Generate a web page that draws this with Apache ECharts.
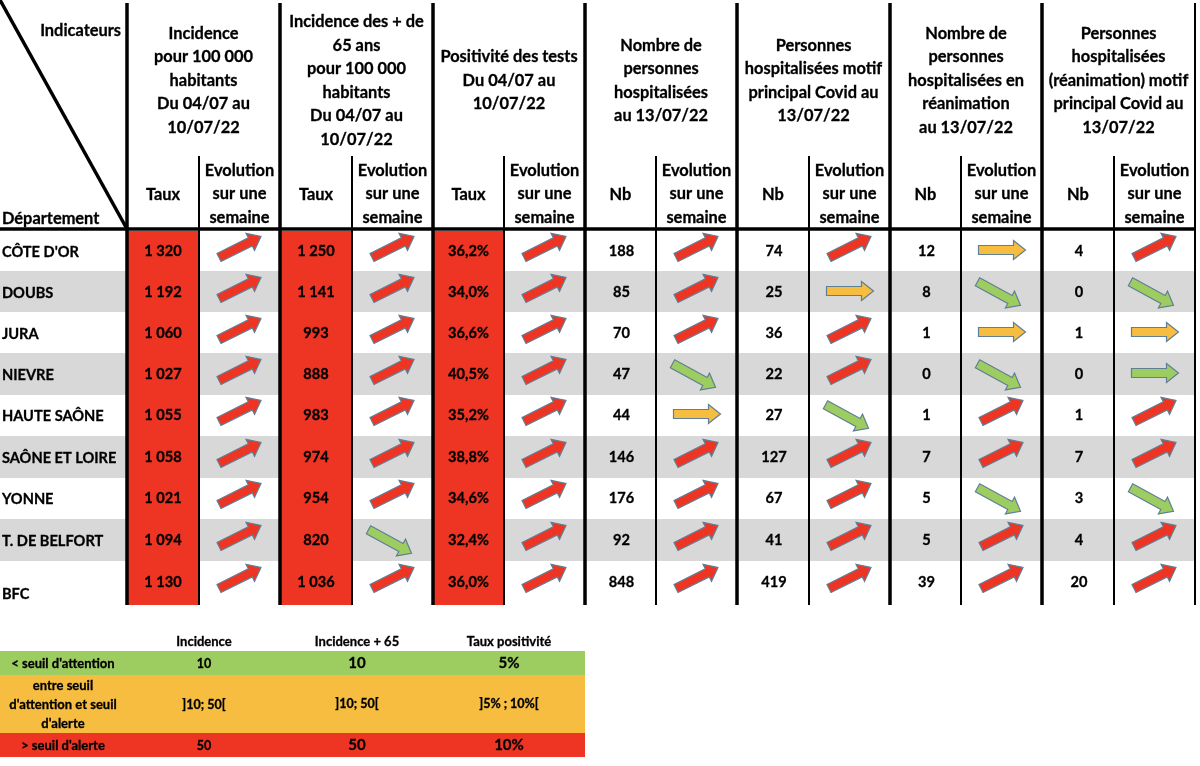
<!DOCTYPE html>
<html>
<head>
<meta charset="utf-8">
<style>
html, body { margin: 0; padding: 0; background: #fff; }
#main { width: 1200px; height: 766px; }
</style>
<script src="https://cdn.jsdelivr.net/npm/echarts@6/dist/echarts.min.js"></script>
</head>
<body>
<div id="main"></div>
<script>
var departments = ["CÔTE D'OR", 'DOUBS', 'JURA', 'NIEVRE', 'HAUTE SAÔNE', 'SAÔNE ET LOIRE', 'YONNE', 'T. DE BELFORT', 'BFC'];

var indicatorTitles = [
	'Incidence\npour 100 000\nhabitants\nDu 04/07 au\n10/07/22',
	'Incidence des + de\n65 ans\npour 100 000\nhabitants\nDu 04/07 au\n10/07/22',
	'Positivité des tests\nDu 04/07 au\n10/07/22',
	'Nombre de\npersonnes\nhospitalisées\nau 13/07/22',
	'Personnes\nhospitalisées motif\nprincipal Covid au\n13/07/22',
	'Nombre de\npersonnes\nhospitalisées en\nréanimation\nau 13/07/22',
	'Personnes\nhospitalisées\n(réanimation) motif\nprincipal Covid au\n13/07/22'
];
var subTitles = ['Taux', 'Taux', 'Taux', 'Nb', 'Nb', 'Nb', 'Nb'];

var incidence = [1320, 1192, 1060, 1027, 1055, 1058, 1021, 1094, 1130];
var incidence65 = [1250, 1141, 993, 888, 983, 974, 954, 820, 1036];
var positivite = [36.2, 34.0, 36.6, 40.5, 35.2, 38.8, 34.6, 32.4, 36.0];
var hospitalises = [188, 85, 70, 47, 44, 146, 176, 92, 848];
var hospMotif = [74, 25, 36, 22, 27, 127, 67, 41, 419];
var reanimation = [12, 8, 1, 0, 1, 7, 5, 5, 39];
var reaMotif = [4, 0, 1, 0, 1, 7, 3, 4, 20];

// u = hausse, o = stable orange, g = stable vert, d = baisse
var evoIncidence = ['u', 'u', 'u', 'u', 'u', 'u', 'u', 'u', 'u'];
var evoIncidence65 = ['u', 'u', 'u', 'u', 'u', 'u', 'u', 'd', 'u'];
var evoPositivite = ['u', 'u', 'u', 'u', 'u', 'u', 'u', 'u', 'u'];
var evoHospitalises = ['u', 'u', 'u', 'd', 'o', 'u', 'u', 'u', 'u'];
var evoHospMotif = ['u', 'o', 'u', 'u', 'd', 'u', 'u', 'u', 'u'];
var evoReanimation = ['o', 'd', 'o', 'd', 'u', 'u', 'd', 'u', 'u'];
var evoReaMotif = ['u', 'd', 'o', 'g', 'u', 'u', 'd', 'u', 'u'];

var legendHeaders = ['Incidence', 'Incidence + 65', 'Taux positivité'];
var legendLabels = ["< seuil d'attention", "entre seuil\nd'attention et seuil\nd'alerte", "> seuil d'alerte"];
var legendIncidence = ['10', ']10; 50[', '50'];
var legendIncidence65 = ['10', ']10; 50[', '50'];
var legendPositivite = ['5%', ']5% ; 10%[', '10%'];

// mise en page (coordonnees de l'axe)
var columnEdges = [127, 280, 433, 585, 737, 890, 1042, 1195];
var subEdges = [199, 352, 504, 656, 809, 961, 1114];
var rowEdges = [231, 271, 312, 353, 395, 436, 478, 519, 561, 605];
var rowCenters = [251, 292, 333, 374, 415, 457, 498, 540, 582];
var legendEdges = [651, 675, 733, 757];
var legendX = [63, 204, 357, 509];

var RED = '#ee3524', ORANGE = '#f6bd40', GREEN = '#9dcd60', GREY = '#d8d8d8';
var FONT = 'Lato, "Open Sans", sans-serif';

var tauxValues = [incidence, incidence65, positivite, hospitalises, hospMotif, reanimation, reaMotif];
var evoValues = [evoIncidence, evoIncidence65, evoPositivite, evoHospitalises, evoHospMotif, evoReanimation, evoReaMotif];

function fmtNumber(v) {
	return String(v).replace(/\B(?=(\d{3})+$)/g, ' ');
}
function fmtPercent(v) {
	return v.toFixed(1).replace('.', ',') + '%';
}

// rectangles
var rects = [];
for (var r = 0; r < 9; r++) {
	if (r % 2 == 1) rects.push([0, rowEdges[r], 1195, rowEdges[r + 1], GREY]);
}
for (var c = 0; c < 3; c++) {
	rects.push([columnEdges[c], rowEdges[0], subEdges[c], rowEdges[9], RED]);
}
rects.push([0, legendEdges[0], 585, legendEdges[1], GREEN]);
rects.push([0, legendEdges[1], 585, legendEdges[2], ORANGE]);
rects.push([0, legendEdges[2], 585, legendEdges[3], RED]);

// traits
var rules = [];
rules.push([0, 229, 1195, 229, 3.5]);
rules.push([0, 0, 127, 229, 3.5]);
columnEdges.forEach(function(x, i) {
	rules.push([x, 3, x, 605, i == 7 ? 2 : 3.5]);
});
subEdges.forEach(function(x) {
	rules.push([x, 156, x, 605, 2]);
});

// fleches
var arrows = [];
evoValues.forEach(function(list, c) {
	var cx = (subEdges[c] + columnEdges[c + 1]) / 2;
	list.forEach(function(code, r) {
		arrows.push([cx, rowCenters[r], code]);
	});
});

// textes
var texts = [];
function addText(str, x, y, size, align) {
	texts.push({ str: str, x: x, y: y, size: size, align: align || 'center' });
}
addText('Indicateurs', 121, 30.5, 16.4, 'right');
addText('Département', 2, 218.5, 16.4, 'left');
departments.forEach(function(name, r) {
	addText(name, 2, (r == 8 ? 593 : rowCenters[r]) + 1, 14.6, 'left');
});
indicatorTitles.forEach(function(title, c) {
	var left = (columnEdges[c] + subEdges[c]) / 2;
	var right = (subEdges[c] + columnEdges[c + 1]) / 2;
	addText(title, (columnEdges[c] + columnEdges[c + 1]) / 2, 80.5, 16.4);
	addText(subTitles[c], left, 194.5, 16.4);
	addText('Evolution\nsur une\nsemaine', right, 194, 16.4);
	tauxValues[c].forEach(function(v, r) {
		addText(c == 2 ? fmtPercent(v) : fmtNumber(v), left + (c > 2 ? 1 : 0), rowCenters[r] + 0.5, 14.6);
	});
});
legendHeaders.forEach(function(h, i) {
	addText(h, legendX[i + 1], 642, 13);
});
legendLabels.forEach(function(l, i) {
	var mid = (legendEdges[i] + legendEdges[i + 1]) / 2;
	addText(l, legendX[0], mid + 1, 13);
	addText(legendIncidence[i], legendX[1], mid + 1, 12.5);
	addText(legendIncidence65[i], legendX[2], mid, i == 1 ? 12.5 : 15);
	addText(legendPositivite[i], legendX[3], mid, i == 1 ? 12.5 : 15);
});

function arrowPoints(api, cx, cy, angle, len) {
	var s = 4.5, h = 9.5, head = 12;
	var local = [
		[-len / 2, -s], [len / 2 - head, -s], [len / 2 - head, -h], [len / 2, 0],
		[len / 2 - head, h], [len / 2 - head, s], [-len / 2, s]
	];
	var cos = Math.cos(angle), sin = Math.sin(angle);
	return local.map(function(p) {
		return api.coord([cx + p[0] * cos - p[1] * sin, cy + p[0] * sin + p[1] * cos]);
	});
}

function indexData(list) {
	return list.map(function(d, i) { return [i, i]; });
}

function customSeries(list, z, render) {
	return {
		type: 'custom',
		coordinateSystem: 'cartesian2d',
		clip: false,
		silent: true,
		z: z,
		data: indexData(list),
		encode: { x: 0, y: 1 },
		renderItem: function(params, api) {
			return render(list[params.dataIndex], api);
		}
	};
}

var myChart = echarts.init(document.getElementById('main'), null, { renderer: 'canvas' });

var option = {
	animation: false,
	backgroundColor: '#fff',
	grid: { left: 0, right: 0, top: 0, bottom: 0 },
	xAxis: { type: 'value', min: 0, max: 1200, show: false },
	yAxis: { type: 'value', min: 0, max: 766, inverse: true, show: false },
	series: [
		customSeries(rects, 1, function(d, api) {
			var a = api.coord([d[0], d[1]]), b = api.coord([d[2], d[3]]);
			return {
				type: 'rect',
				shape: { x: a[0], y: a[1], width: b[0] - a[0], height: b[1] - a[1] },
				style: { fill: d[4] }
			};
		}),
		customSeries(rules, 2, function(d, api) {
			var a = api.coord([d[0], d[1]]), b = api.coord([d[2], d[3]]);
			return {
				type: 'line',
				shape: { x1: a[0], y1: a[1], x2: b[0], y2: b[1] },
				style: { stroke: '#000', lineWidth: d[4] }
			};
		}),
		customSeries(arrows, 3, function(d, api) {
			var code = d[2], points, fill;
			if (code == 'u') {
				points = arrowPoints(api, d[0] + 0.5, d[1] - 4, -0.465, 47);
				fill = RED;
			} else if (code == 'd') {
				points = arrowPoints(api, d[0] - 2.5, d[1] + 1.5, 0.5, 49);
				fill = GREEN;
			} else {
				points = arrowPoints(api, d[0] + 0.5, d[1] - 1, 0, 47);
				fill = code == 'o' ? ORANGE : GREEN;
			}
			return {
				type: 'polygon',
				shape: { points: points },
				style: { fill: fill, stroke: '#5f7f96', lineWidth: 1.2 }
			};
		}),
		customSeries(texts, 4, function(d, api) {
			var p = api.coord([d.x, d.y]);
			return {
				type: 'text',
				x: p[0],
				y: p[1],
				style: {
					text: d.str,
					fill: '#000',
					stroke: '#000',
					lineWidth: 0.3,
					align: d.align,
					verticalAlign: 'middle',
					fontFamily: FONT,
					fontWeight: 'bold',
					fontSize: d.size,
					lineHeight: d.size > 14.6 ? 23.5 : 19
				}
			};
		})
	]
};

myChart.setOption(option);
</script>
</body>
</html>
